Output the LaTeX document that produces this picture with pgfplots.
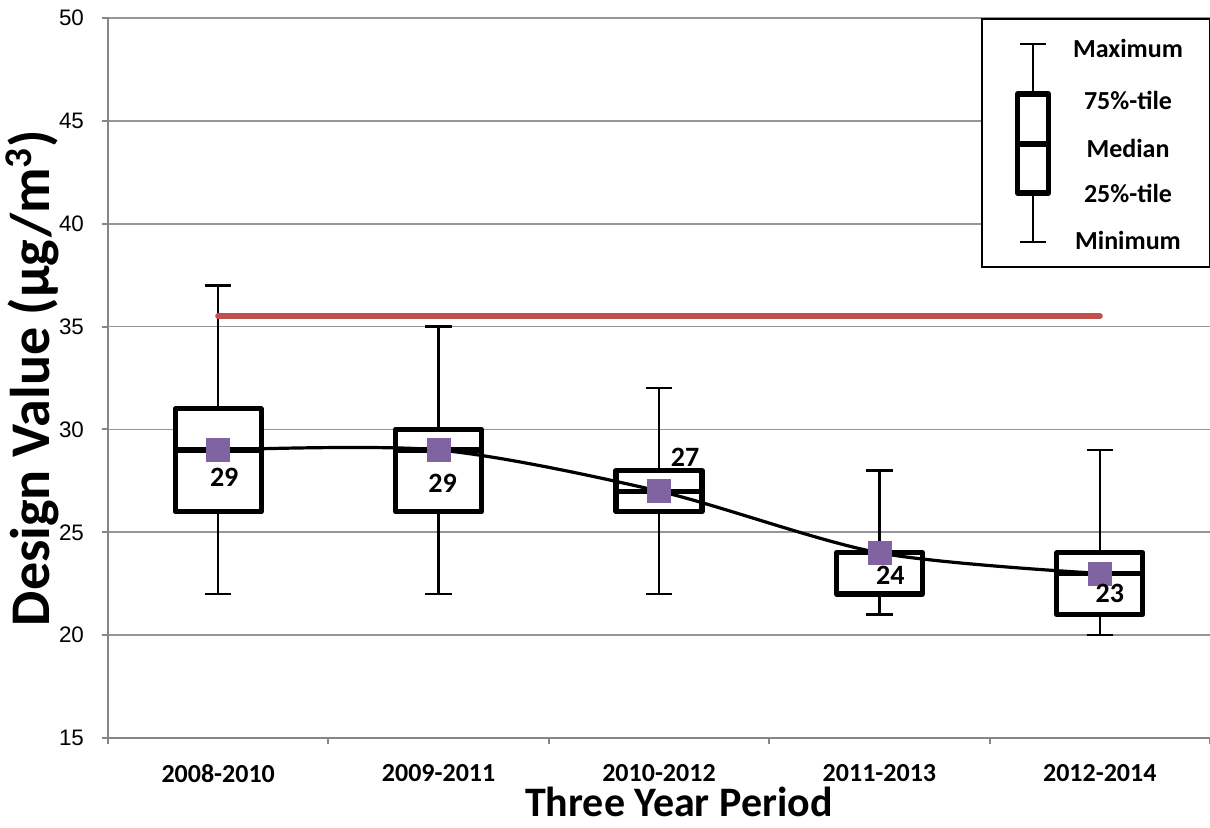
\documentclass[border=0pt]{standalone}
\usepackage{pgfplots}
\pgfplotsset{compat=1.18}
\usepackage{pgfplotstable}
\usepgfplotslibrary{statistics}
\usepackage{fontspec}
\setmainfont{Carlito}
\newfontfamily\tickfont{Liberation Sans}
\definecolor{gridgray}{RGB}{150,150,150}
\definecolor{axgray}{RGB}{134,134,134}
\definecolor{stdred}{RGB}{192,80,77}
\definecolor{medpurple}{RGB}{128,100,162}

\pgfplotstableread{
x y lab dx dy
0 29 29 3 -13.5
1 29 29 2 -16.5
2 27 27 13 17
3 24 24 5.5 -11
4 23 23 5 -10
}\medtab

\begin{document}
\begin{tikzpicture}
\begin{axis}[
  scale only axis,
  width=551pt, height=360pt,
  xmin=-0.5, xmax=4.5,
  ymin=15, ymax=50,
  clip=false,
  axis lines*=left,
  axis line style={axgray, line width=1pt},
  tick align=outside,
  major tick length=3pt,
  tick style={axgray, line width=1pt},
  ytick={15,20,...,50},
  yticklabel style={font=\tickfont\fontsize{11.2}{13}\selectfont, xshift=-5.5pt},
  /pgf/number format/assume math mode=true,
  xtick={-0.5,0.5,...,4.5},
  xticklabels={},
  extra x ticks={0,1,2,3,4},
  extra x tick labels={2008-2010,2009-2011,2010-2012,2011-2013,2012-2014},
  extra x tick style={major tick length=0pt, grid=none,
     xticklabel style={font=\bfseries\fontsize{13}{15}\selectfont, yshift=-9.5pt}},
  ymajorgrids,
  grid style={gridgray, line width=0.9pt},
  xlabel={\bfseries\fontsize{21}{24}\selectfont Three Year Period},
  xlabel style={at={(axis description cs:0.518,0)}, anchor=base, yshift=-39pt},
  ylabel={\bfseries\fontsize{28}{32}\selectfont Design Value (µg/m\textsuperscript{3})},
  ylabel style={at={(axis description cs:-0.069,0.5)}, anchor=center, rotate=0},
  boxplot/draw direction=y,
  boxplot/every box/.style={fill=white, line width=2.6pt, line join=round},
  boxplot/every whisker/.style={line width=1.2pt},
  boxplot/every median/.style={line width=2.6pt},
  boxplot/whisker extend=0.12,
  boxplot/box extend=0.39,
]
% boxes
\addplot[black, boxplot prepared={draw position=0, lower whisker=22, lower quartile=26, median=29, upper quartile=31, upper whisker=37}] coordinates {};
\addplot[black, boxplot prepared={draw position=1, lower whisker=22, lower quartile=26, median=29, upper quartile=30, upper whisker=35}] coordinates {};
\addplot[black, boxplot prepared={draw position=2, lower whisker=22, lower quartile=26, median=27, upper quartile=28, upper whisker=32}] coordinates {};
\addplot[black, boxplot prepared={draw position=3, lower whisker=21, lower quartile=22, median=24, upper quartile=24, upper whisker=28}] coordinates {};
\addplot[black, boxplot prepared={draw position=4, lower whisker=20, lower quartile=21, median=23, upper quartile=24, upper whisker=29}] coordinates {};
% standard line
\addplot[stdred, line width=3pt, line cap=round] coordinates {(0,35.5) (4,35.5)};
% median trend
\addplot[black, line width=1.6pt, smooth, mark=none] table[x=x, y=y] {\medtab};
\addplot[only marks, mark=square*, mark size=5.75pt, color=medpurple, mark options={draw=none}] table[x=x, y=y] {\medtab};
\addplot[draw=none, mark=none, nodes near coords, point meta=explicit symbolic,
  visualization depends on={\thisrow{dx}\as\dx},
  visualization depends on={\thisrow{dy}\as\dy},
  every node near coord/.append style={font=\bfseries\fontsize{14}{16}\selectfont, black, anchor=center, xshift=\dx pt, yshift=\dy pt}]
  table[x=x, y=y, meta=lab] {\medtab};
% legend panel
\draw[black, line width=1pt, fill=white] (axis cs:3.466,37.9) rectangle (axis cs:4.5,49.95);
\addplot[black, boxplot prepared={draw position=3.697, lower whisker=39.11, lower quartile=41.49, median=43.88, upper quartile=46.31, upper whisker=48.74, box extend=0.14}] coordinates {};
\node[font=\bfseries\fontsize{13}{15}\selectfont] at (axis cs:4.128,48.54) {Maximum};
\node[font=\bfseries\fontsize{13}{15}\selectfont] at (axis cs:4.128,46.01) {75\%-tile};
\node[font=\bfseries\fontsize{13}{15}\selectfont] at (axis cs:4.128,43.68) {Median};
\node[font=\bfseries\fontsize{13}{15}\selectfont] at (axis cs:4.128,41.49) {25\%-tile};
\node[font=\bfseries\fontsize{13}{15}\selectfont] at (axis cs:4.128,39.21) {Minimum};
\end{axis}
\pgfresetboundingbox
\useasboundingbox (-54pt,-44.5pt) rectangle (551pt,369pt);
\end{tikzpicture}
\end{document}
